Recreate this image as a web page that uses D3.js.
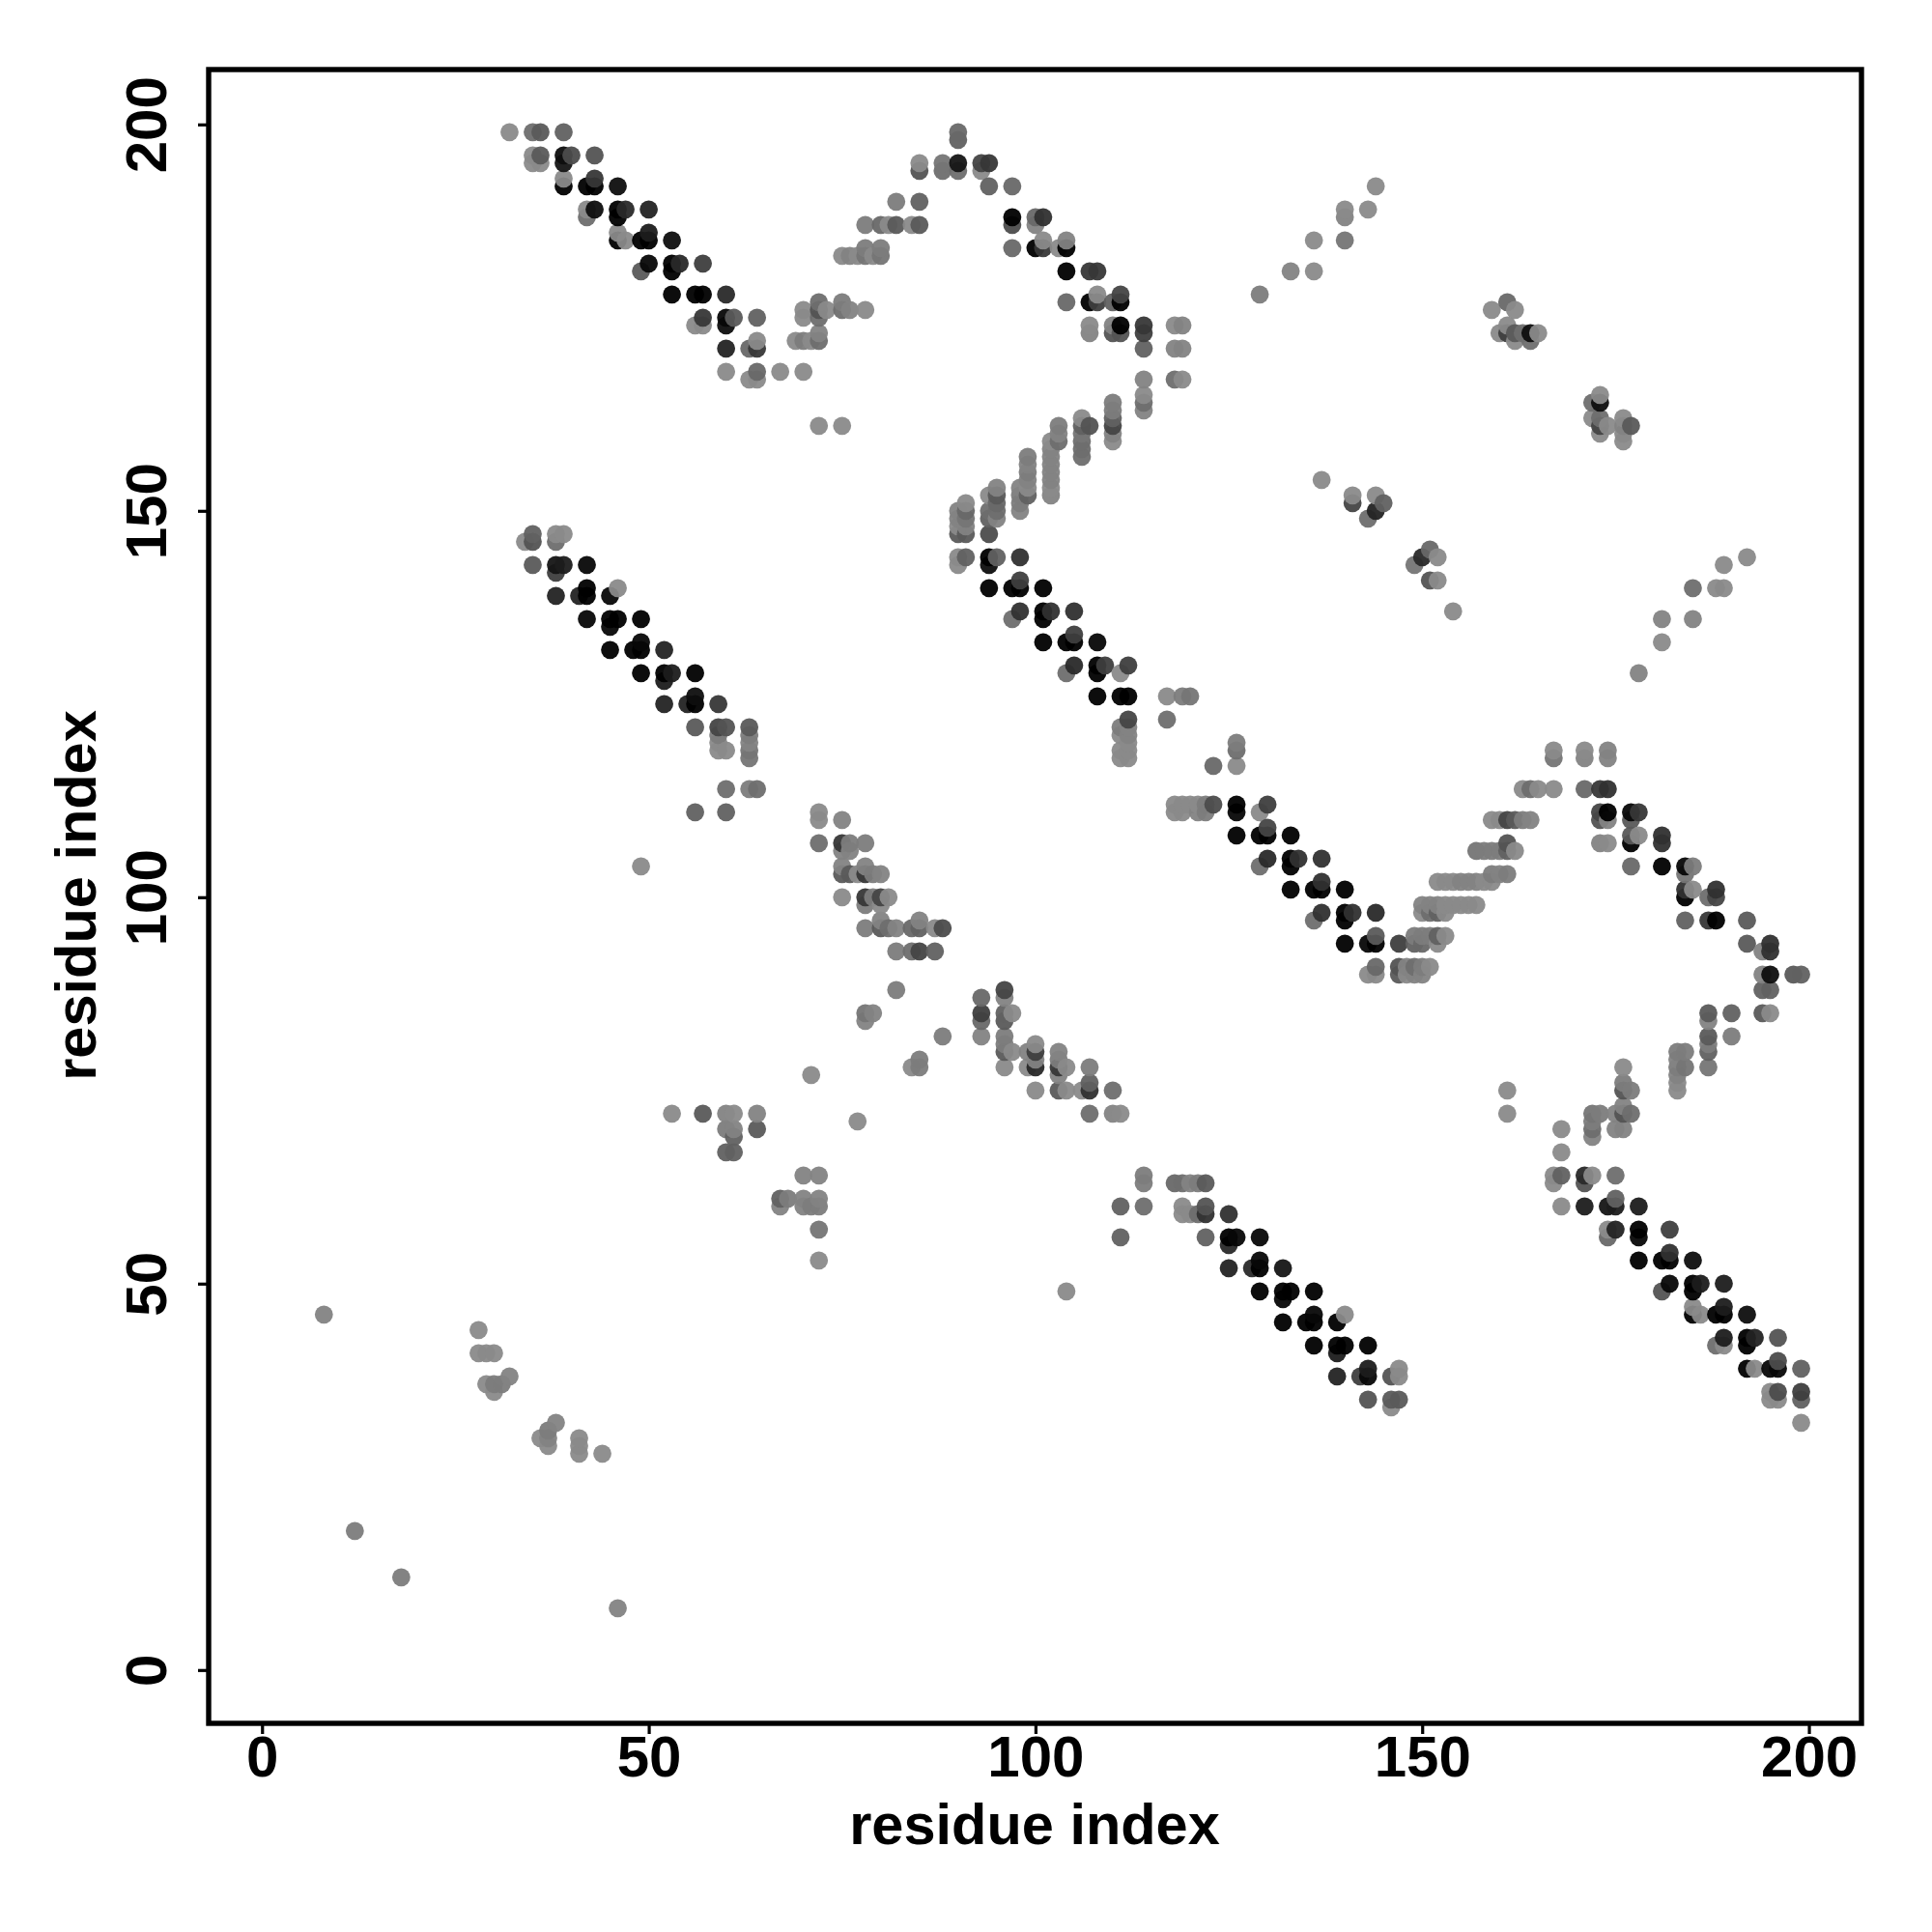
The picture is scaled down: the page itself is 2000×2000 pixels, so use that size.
<!DOCTYPE html>
<html><head><meta charset="utf-8">
<style>html,body{margin:0;padding:0;background:#fff}svg{display:block}text{font-family:"Liberation Sans",Arial,sans-serif;font-weight:700;fill:#000}</style>
<script src="https://cdnjs.cloudflare.com/ajax/libs/d3/7.8.5/d3.min.js"></script>
</head><body><svg id="c" width="2000" height="2000"></svg>
<script>
const xTicks=[0,50,100,150,200], yTicks=[0,50,100,150,200];
const axisTitle="residue index";
// each entry: [residue i, residue j, contact strength 0..1]
const strandTopLeft=[[32,199,0],[35,199,.2],[36,199,.35],[39,199,.3],[35,196,0],[36,196,.35],[39,196,.9],[40,196,.45],[43,196,.4],[35,195,0],[36,195,0],[39,195,.85],[39,193,0],[43,193,.6],[39,192,1],[42,192,1],[43,192,1],[46,192,.9],[42,189,0],[43,189,.9],[46,189,1],[47,189,.7],[50,189,.75],[42,188,.2],[46,188,1],[46,186,0],[50,186,.8],[46,185,1],[47,185,0],[49,185,1],[50,185,1],[53,185,.9],[50,182,.95],[53,182,1],[54,182,.7],[57,182,.55],[49,181,.35],[53,181,1],[53,178,1],[56,178,1],[57,178,1],[60,178,.7],[57,175,.6],[60,175,.95],[61,175,.35],[64,175,.3],[56,174,0],[57,174,0],[60,174,.9],[64,172,0],[60,171,.75],[63,171,.25],[64,171,.6],[60,168,0],[64,168,.25],[67,168,0],[70,168,0],[63,167,0],[64,167,0],[72,161,0],[75,161,0]];
const strandTopRise=[[90,199,.25],[90,198,.3],[85,195,0],[85,194,.4],[88,195,.15],[88,194,.2],[90,195,.85],[90,194,.2],[82,190,.1],[85,190,.3],[78,187,.1],[80,187,.25],[81,187,0],[82,187,.35],[84,187,0],[85,187,.35],[78,184,.1],[80,184,.1],[75,183,0],[76,183,.05],[77,183,0],[78,183,.15],[79,183,0],[80,183,.15],[72,177,.2],[75,177,.1],[70,176,0],[72,176,.4],[73,176,0],[75,176,.2],[76,176,.05],[78,176,0],[70,175,0],[72,175,.2],[72,173,.05],[69,172,0],[70,172,.1],[71,172,0],[72,172,.2]];
const strandTopMid=[[93,195,.5],[94,195,.6],[93,194,0],[94,192,.3],[97,192,.25],[97,188,1],[100,188,.25],[101,188,.65],[97,187,.45],[100,187,.05],[101,185,0],[104,185,.05],[97,184,.25],[100,184,1],[101,184,.6],[103,184,0],[104,184,1],[104,181,1],[107,181,.6],[108,181,.6],[108,178,0],[111,178,.5],[104,177,.25],[107,177,1],[108,177,.55],[110,177,.3],[111,177,1],[107,174,0],[110,174,.05],[111,174,1],[114,174,.6],[118,174,0],[119,174,.05],[107,173,.05],[110,173,.4],[111,173,.4],[114,173,.55],[114,171,.3],[118,171,.05],[119,171,.05],[114,167,.05],[118,167,.2],[119,167,0],[114,165,0],[114,164,.2],[114,163,.05]];
const strandRising=[[110,164,.1],[110,163,.1],[110,162,.3],[110,161,.5],[110,160,.05],[110,159,0],[107,161,.4],[106,162,0],[106,161,.3],[106,160,.15],[106,159,.2],[106,158,.2],[106,157,.2],[103,161,.1],[103,160,.05],[103,159,.2],[102,159,0],[102,158,.05],[102,157,.05],[102,156,.05],[102,155,.05],[102,154,.05],[102,153,0],[102,152,.05],[99,157,.1],[99,156,.05],[99,155,.1],[99,154,.05],[99,153,0],[99,152,.3],[98,153,.05],[98,152,.1],[98,151,.1],[98,150,.05],[95,153,.05],[95,152,.35],[95,151,.25],[95,150,.2],[95,149,.05],[94,152,0],[94,150,.2],[94,149,.3],[91,151,0],[91,150,.25],[91,149,.15],[91,148,.05],[91,147,.35],[90,150,.05],[90,149,.05],[90,148,0],[90,147,.35],[94,147,.45]];
const strandMidLeft=[[35,147,.3],[38,147,0],[39,147,0],[34,146,0],[35,146,.4],[38,146,.2],[35,143,.35],[38,143,.85],[39,143,.8],[42,143,.95],[38,142,.55],[42,140,1],[46,140,0],[38,139,.75],[41,139,.75],[42,139,1],[45,139,.95],[42,136,.95],[45,136,1],[46,136,1],[49,136,1],[45,135,.95],[49,133,.95],[45,132,1],[48,132,1],[49,132,1],[52,132,.75],[49,129,1],[52,129,1],[53,129,.8],[56,129,1],[52,128,.8],[56,126,.9],[52,125,.75],[55,125,.75],[56,125,1],[59,125,.6],[56,122,.35],[59,122,.5],[60,122,.4],[63,122,.35],[59,121,.1],[63,121,.1],[59,120,0],[63,120,.05],[59,119,0],[60,119,0],[63,119,.15],[63,118,.15],[60,114,.2],[63,114,.1],[64,114,.2],[56,111,.3],[60,111,.3],[49,104,0]];
const strandMidCenter=[[90,144,0],[91,144,.3],[94,144,1],[95,144,.3],[98,144,.65],[90,143,0],[94,143,.9],[98,141,.55],[94,140,1],[97,140,1],[98,140,1],[101,140,1],[98,137,.65],[101,137,1],[102,137,.65],[105,137,.65],[97,136,.2],[101,136,1],[105,134,.55],[101,133,1],[104,133,1],[105,133,1],[108,133,.95],[105,130,.7],[108,130,1],[109,130,.55],[112,130,.55],[104,129,.2],[108,129,1],[111,129,0],[108,126,1],[111,126,1],[112,126,1],[117,126,0],[119,126,.1],[120,126,.15],[112,123,.5],[117,123,.2],[111,122,.1],[112,122,.05],[111,121,0],[112,121,.05],[112,120,0],[111,119,0],[112,119,0],[111,118,0],[112,118,0],[123,117,.25],[126,120,.1],[126,119,.2],[126,117,0]];
const strandMidRight=[[118,112,0],[119,112,0],[120,112,0],[121,112,0],[122,112,.1],[123,112,.45],[126,112,1],[130,112,.55],[118,111,0],[119,111,0],[121,111,.05],[122,111,.1],[126,111,.95],[129,111,0],[130,109,.5],[126,108,1],[129,108,1],[130,108,1],[133,108,1],[130,105,.7],[133,105,1],[134,105,.65],[137,105,.65],[129,104,.2],[133,104,1],[137,102,.65],[133,101,1],[136,101,1],[137,101,1],[140,101,1],[137,98,.65],[140,98,1],[141,98,.65],[144,98,.7],[136,97,.2],[140,97,1],[144,95,.35],[140,94,1],[143,94,.95],[144,94,1],[147,94,.55],[144,91,.25],[143,90,0],[144,90,0],[147,91,.4],[147,90,.35],[148,91,.05],[149,91,.2],[150,91,.1],[151,91,0],[148,90,0],[149,90,.05],[150,90,.05],[149,95,.1],[150,95,.1],[151,95,.1],[152,95,.3],[153,95,0],[149,94,.3],[150,94,.25],[152,94,0]];
const strandRightRise=[[150,99,.05],[151,99,.05],[152,99,.05],[153,99,0],[154,99,0],[155,99,0],[156,99,0],[157,99,0],[150,98,0],[151,98,.2],[152,98,.3],[153,98,0],[152,102,0],[153,102,0],[154,102,0],[155,102,.05],[156,102,.05],[157,102,.05],[158,102,0],[159,102,0],[159,103,.1],[160,103,.05],[161,103,.1],[157,106,.15],[158,106,.1],[159,106,.1],[160,106,.1],[161,106,.3],[162,106,0],[161,107,.4],[159,110,0],[160,110,0],[161,110,.5],[162,110,.35],[163,110,.1],[164,110,.05],[163,114,0],[164,114,.2],[165,114,0],[167,114,0],[167,119,0],[167,118,.15],[171,119,0],[171,118,.05],[174,119,.05],[174,118,.05],[171,114,.25],[173,114,.6],[174,114,.65]];
const strandRightDown=[[173,111,.5],[174,111,1],[177,111,.95],[178,111,.6],[173,110,.4],[174,110,.05],[177,110,.35],[177,108,.35],[178,108,0],[181,108,.65],[173,107,.05],[174,107,0],[177,107,1],[181,107,.65],[177,104,.25],[181,104,1],[184,104,.95],[185,104,.1],[184,103,.15],[184,101,.65],[185,101,0],[188,101,.65],[184,100,1],[187,100,.2],[188,100,.5],[184,97,.3],[187,97,.6],[188,97,1],[192,97,.35],[192,94,.35],[195,94,.65],[194,93,.05],[195,93,.65],[194,90,.05],[195,90,.9],[198,90,.35],[199,90,.3],[194,88,.3],[195,88,.3],[194,85,.35],[195,85,0]];
const strandRightReturn=[[187,85,.35],[190,85,.3],[187,84,.05],[187,82,.35],[190,82,.1],[187,81,.1],[187,80,.3],[183,80,.1],[184,80,.1],[183,79,.05],[183,78,.1],[184,78,.15],[187,78,.15],[183,77,.05],[183,76,0],[183,75,0],[176,78,0],[176,76,.1],[177,75,.1],[176,75,.4],[176,73,.05],[175,72,.05],[176,72,.4],[177,72,.2],[172,72,.15],[173,72,.1],[172,71,.1],[172,70,.2],[172,69,.05],[175,70,.05],[176,70,.05],[168,70,0],[168,67,0],[161,75,0],[161,72,0]];
const strandBottomRight=[[167,64,0],[168,64,.3],[171,64,.7],[172,64,0],[175,64,.2],[167,63,0],[171,63,.4],[175,61,.3],[168,60,0],[171,60,.8],[174,60,.85],[175,60,.8],[178,60,.8],[174,57,0],[175,57,.75],[178,57,1],[182,57,.55],[174,56,.25],[178,56,.95],[182,54,.65],[178,53,1],[181,53,1],[182,53,1],[185,53,.9],[182,50,.95],[185,50,1],[186,50,.8],[189,50,.8],[181,49,.4],[185,49,1],[185,47,0],[189,47,.8],[185,46,1],[186,46,0],[188,46,1],[189,46,1],[192,46,.9],[189,43,.8],[192,43,1],[193,43,.75],[196,43,.4],[188,42,.2],[189,42,0],[192,42,1],[196,40,.45],[192,39,1],[193,39,0],[195,39,.95],[196,39,.95],[199,39,.3],[195,36,0],[196,36,.45],[199,36,.55],[195,35,0],[196,35,0],[199,35,.3],[199,32,0]];
const strandBottomCenter=[[114,64,.1],[114,63,.1],[118,63,.25],[119,63,.2],[120,63,.05],[121,63,.1],[122,63,.35],[111,60,.3],[114,60,.2],[119,60,0],[122,60,.4],[119,59,0],[120,59,0],[121,59,.2],[122,59,.65],[125,59,.65],[111,56,.3],[122,56,.3],[125,56,1],[126,56,.95],[129,56,.95],[125,55,.7],[129,53,.95],[125,52,.75],[128,52,.7],[129,52,1],[132,52,.85],[129,49,1],[132,49,1],[133,49,1],[136,49,1],[132,48,.95],[136,46,.95],[140,46,0],[132,45,1],[135,45,1],[136,45,1],[139,45,1],[136,42,1],[139,42,1],[140,42,1],[143,42,1],[139,41,.8],[143,39,.8],[147,39,0],[139,38,.75],[142,38,.55],[143,38,.95],[146,38,.4],[147,38,0],[143,35,.4],[146,35,.35],[147,35,.35],[146,34,0],[104,49,0]];
const clusterCentre=[[72,111,0],[72,110,0],[75,110,.05],[72,107,.2],[75,107,.6],[76,107,.1],[78,107,.1],[75,106,.05],[76,106,.05],[75,104,.05],[78,104,.05],[75,103,.35],[76,103,.35],[77,103,0],[78,103,.6],[79,103,.1],[80,103,.05],[75,100,0],[78,100,.6],[79,100,.1],[80,100,.5],[81,100,0],[78,99,.1],[80,99,0],[80,97,.05],[85,97,.05],[78,96,.1],[80,96,.35],[81,96,.2],[82,96,.05],[84,96,.25],[85,96,.3],[87,96,0],[88,96,.45],[82,93,.1],[84,93,.2],[85,93,.5],[87,93,.3],[82,88,.1],[78,85,.15],[79,85,.05],[78,84,.05],[85,79,.1],[84,78,0],[85,78,.1],[71,77,0],[77,71,0],[53,72,0],[57,72,.35],[60,72,.05],[61,72,0],[64,72,.05],[60,70,.1],[61,70,.05],[64,70,.35],[61,69,.3],[60,67,.3],[61,67,.3],[70,64,.05],[72,64,.05],[67,61,.3],[68,61,.1],[70,61,.05],[72,61,.05],[67,60,.05],[70,60,.05],[71,60,.1],[72,60,.1],[72,57,.15],[72,53,0]];
const clusterLower=[[88,82,.1],[93,87,.25],[93,85,.55],[93,84,.25],[93,82,.05],[96,88,.5],[96,87,.05],[96,85,.3],[97,85,0],[96,84,.35],[96,82,.1],[96,81,.1],[96,80,.35],[97,80,0],[96,78,0],[99,80,.05],[99,78,0],[100,81,0],[100,80,.55],[100,79,.05],[100,78,.7],[100,75,0],[103,80,.05],[103,79,.1],[103,78,.6],[104,78,0],[103,77,.05],[103,75,.35],[104,75,0],[106,75,0],[107,78,.1],[107,76,.3],[107,75,.65],[110,75,.2],[107,72,.2],[110,72,.05],[111,72,0]];
const outliersUpperRight=[[144,192,0],[140,189,0],[140,188,.05],[143,189,0],[136,185,0],[140,185,.15],[133,181,.05],[136,181,0],[129,178,.1],[161,177,.25],[159,176,0],[162,176,0],[161,174,0],[160,173,0],[161,173,.55],[162,173,.35],[163,173,.2],[164,173,.9],[165,173,0],[162,172,0],[164,172,.2],[173,165,0],[172,164,.2],[173,164,.9],[172,162,0],[173,162,.2],[173,161,.5],[174,161,0],[173,160,0],[176,162,0],[176,161,.05],[177,161,.35],[176,160,0],[176,159,0],[137,154,0],[141,152,0],[141,151,.5],[144,152,0],[145,151,.3],[144,150,.75],[143,149,.2],[151,145,.25],[150,144,.7],[152,144,0],[149,143,.15],[151,141,.4],[152,141,0],[154,137,0],[192,144,0],[189,143,0],[185,140,.2],[188,140,0],[189,140,0],[181,136,.05],[185,136,.05],[181,133,0],[178,129,.05]];
const outliersLowerLeft=[[8,46,.05],[28,44,0],[28,41,0],[29,41,0],[30,41,0],[32,38,.05],[29,37,0],[30,37,.1],[31,37,.1],[30,36,0],[38,32,.05],[37,31,.1],[36,30,0],[37,30,.05],[37,29,0],[41,30,0],[41,29,0],[41,28,0],[44,28,0],[12,18,.1],[18,12,.1],[46,8,.05]];

const groups=[strandTopLeft,strandTopRise,strandTopMid,strandRising,strandMidLeft,strandMidCenter,strandMidRight,strandRightRise,strandRightDown,strandRightReturn,strandBottomRight,strandBottomCenter,clusterCentre,clusterLower,outliersUpperRight,outliersLowerLeft];
const unique=new Map();
groups.flat().forEach(d=>unique.set(d[0]+"_"+d[1],d));
const contacts=[...unique.values()].sort((a,b)=>d3.ascending(a[0],b[0])||d3.ascending(a[1],b[1]));

const svg=d3.select("#c");
svg.append("rect").attr("width",2000).attr("height",2000).attr("fill","#fff");
const x=d3.scaleLinear().domain([-6.9,206.8]).range([216,1927]);
const y=d3.scaleLinear().domain([-6.9,207.1]).range([1784,72]);
const shade=d3.scaleLinear().domain([0,1]).range([138,0]);
svg.append("g").selectAll("circle").data(contacts).join("circle")
 .attr("cx",d=>x(d[0])).attr("cy",d=>y(d[1])).attr("r",9.4)
 .attr("fill",d=>{const g=Math.round(shade(d[2]));return d3.rgb(g,g,g).formatHex();})
 .attr("fill-opacity",0.95);
svg.append("rect").attr("x",216).attr("y",72).attr("width",1711).attr("height",1712)
 .attr("fill","none").attr("stroke","#000").attr("stroke-width",5.4);
const ax=svg.append("g").attr("transform","translate(0,1784)")
 .call(d3.axisBottom(x).tickValues(xTicks).tickSize(11).tickSizeOuter(0).tickPadding(8).tickFormat(d3.format("d")));
ax.select(".domain").remove();
ax.selectAll("line").attr("stroke","#000").attr("stroke-width",3.2);
ax.selectAll("text").attr("font-size",60).attr("fill","#000").attr("dy",null).attr("y",55);
const ay=svg.append("g").attr("transform","translate(216,0)")
 .call(d3.axisLeft(y).tickValues(yTicks).tickSize(11).tickSizeOuter(0).tickFormat(d3.format("d")));
ay.select(".domain").remove();
ay.selectAll("line").attr("stroke","#000").attr("stroke-width",3.2);
ay.selectAll("text").attr("font-size",60).attr("fill","#000").attr("x",null).attr("dy",null)
 .attr("text-anchor","middle").attr("transform","translate(-44,0) rotate(-90)");
svg.append("text").attr("x",1071).attr("y",1909).attr("text-anchor","middle").attr("font-size",59.5).text(axisTitle);
svg.append("text").attr("transform","translate(99,927) rotate(-90)").attr("text-anchor","middle").attr("font-size",59.5).text(axisTitle);
</script></body></html>
